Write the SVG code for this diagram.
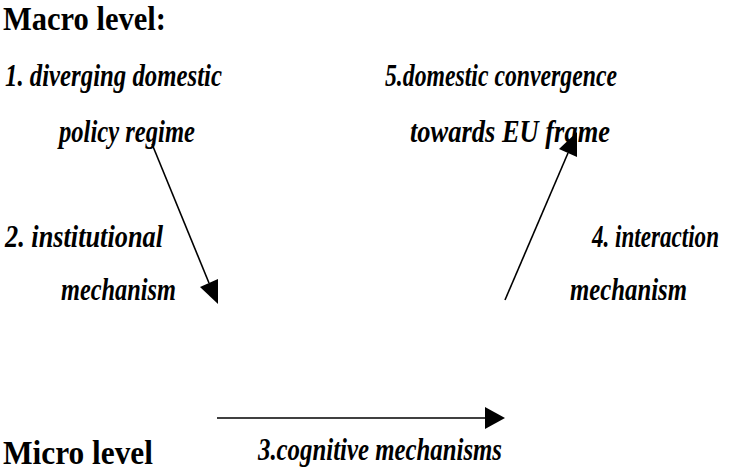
<svg xmlns="http://www.w3.org/2000/svg" width="731" height="471" viewBox="0 0 731 471">
<style>
.h{font-family:"Liberation Serif","Times New Roman",serif;font-weight:bold;font-size:33px;fill:#000}
.t{font-family:"Liberation Serif","Times New Roman",serif;font-weight:bold;font-style:italic;font-size:31px;fill:#000}
.c{stroke:#000;stroke-width:1.6;fill:none}
.a{fill:#000;stroke:none}
</style>
<rect width="731" height="471" fill="#fff"/>
<g id="macro"><text class="h" x="3" y="30" textLength="163" lengthAdjust="spacingAndGlyphs">Macro level:</text></g>
<g id="n1">
<text class="t" x="5" y="86" textLength="217" lengthAdjust="spacingAndGlyphs">1. diverging domestic</text>
<text class="t" x="59" y="142" textLength="136" lengthAdjust="spacingAndGlyphs">policy regime</text>
</g>
<g id="n5">
<text class="t" x="385" y="86" textLength="232" lengthAdjust="spacingAndGlyphs">5.domestic convergence</text>
<text class="t" x="410" y="142" textLength="200" lengthAdjust="spacingAndGlyphs">towards EU frame</text>
</g>
<g id="n2">
<text class="t" x="5" y="247" textLength="158" lengthAdjust="spacingAndGlyphs">2. institutional</text>
<text class="t" x="61" y="300" textLength="115" lengthAdjust="spacingAndGlyphs">mechanism</text>
</g>
<g id="n4">
<text class="t" transform="translate(592,247) scale(0.747,1)" x="0" y="0" textLength="170" lengthAdjust="spacingAndGlyphs">4. interaction</text>
<text class="t" x="570" y="300" textLength="117" lengthAdjust="spacingAndGlyphs">mechanism</text>
</g>
<g id="micro"><text class="h" x="3" y="464" textLength="150" lengthAdjust="spacingAndGlyphs">Micro level</text></g>
<g id="n3"><text class="t" x="258" y="460" textLength="244" lengthAdjust="spacingAndGlyphs">3.cognitive mechanisms</text></g>
<g id="connectors">
<line class="c" x1="152" y1="144" x2="209" y2="283"/>
<polygon class="a" points="218,304 200,287 218,279"/>
<line class="c" x1="505" y1="300" x2="568" y2="153"/>
<polygon class="a" points="577,132 559,149 577,157"/>
<line class="c" x1="217" y1="418" x2="486" y2="418"/>
<polygon class="a" points="505,418 485,407 485,429"/>
</g>
</svg>
